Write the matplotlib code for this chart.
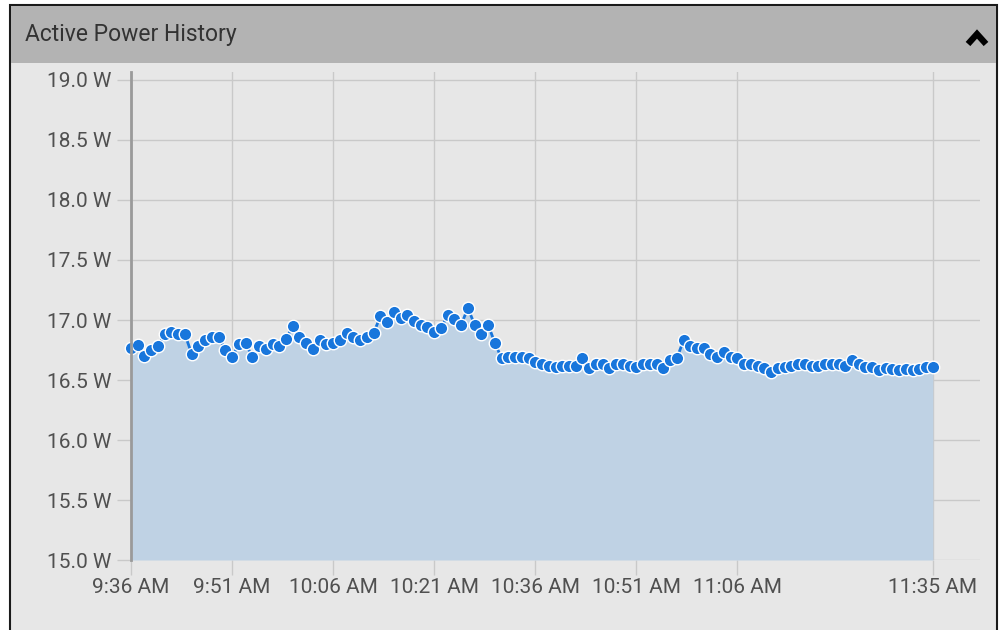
import numpy as np
import pandas as pd
import matplotlib
matplotlib.use("Agg")
import matplotlib.pyplot as plt
from matplotlib.patches import Rectangle
from matplotlib.lines import Line2D

# one reading per minute, 9:36 AM .. 11:35 AM
times = pd.date_range("2024-01-01 09:36", "2024-01-01 11:35", freq="1min")
power_w = [
    16.77, 16.79, 16.70, 16.75, 16.78, 16.88, 16.90, 16.88, 16.88, 16.72,
    16.78, 16.83, 16.86, 16.86, 16.75, 16.69, 16.80, 16.81, 16.69, 16.78,
    16.76, 16.80, 16.78, 16.84, 16.95, 16.86, 16.81, 16.76, 16.83, 16.80,
    16.81, 16.83, 16.89, 16.86, 16.83, 16.86, 16.89, 17.03, 16.98, 17.07,
    17.02, 17.04, 16.99, 16.96, 16.94, 16.90, 16.93, 17.04, 17.01, 16.96,
    17.10, 16.96, 16.88, 16.96, 16.81, 16.68, 16.69, 16.69, 16.69, 16.68,
    16.65, 16.63, 16.62, 16.61, 16.62, 16.62, 16.62, 16.68, 16.60, 16.63,
    16.63, 16.60, 16.63, 16.63, 16.62, 16.61, 16.63, 16.63, 16.63, 16.60,
    16.67, 16.68, 16.83, 16.78, 16.77, 16.77, 16.72, 16.69, 16.73, 16.69,
    16.68, 16.63, 16.63, 16.62, 16.60, 16.57, 16.60, 16.61, 16.62, 16.63,
    16.63, 16.62, 16.62, 16.63, 16.63, 16.63, 16.62, 16.67, 16.63, 16.61,
    16.61, 16.58, 16.60, 16.59, 16.58, 16.59, 16.58, 16.59, 16.61, 16.61,
]
tick_labels = ["9:36 AM", "9:51 AM", "10:06 AM", "10:21 AM", "10:36 AM",
               "10:51 AM", "11:06 AM", "11:35 AM"]
y_ticks = [15.0, 15.5, 16.0, 16.5, 17.0, 17.5, 18.0, 18.5, 19.0]

plt.rcParams["font.family"] = ["Roboto", "DejaVu Sans"]

W, H = 1005, 630
fig = plt.figure(figsize=(W / 100, H / 100), dpi=100)
fig.patch.set_facecolor("white")

def px(x0, y0, x1, y1):
    # pixel box (top-left origin) -> figure fraction rect
    return (x0 / W, 1 - y1 / H, (x1 - x0) / W, (y1 - y0) / H)

# panel body, header band and border (kept behind the axes)
l, b, w, h = px(10, 5, 997, 640)
fig.add_artist(Rectangle((l, b), w, h, transform=fig.transFigure,
                         facecolor="#e7e7e7", edgecolor="#1a1a1a", lw=1.5,
                         zorder=-2))
l, b, w, h = px(11, 6, 996, 63)
fig.add_artist(Rectangle((l, b), w, h, transform=fig.transFigure,
                         facecolor="#b3b3b3", edgecolor="none", zorder=-1))
fig.text(25 / W, 1 - 35 / H, "Active Power History", fontsize=16.5,
         color="#333333", va="center", ha="left")
# collapse chevron
fig.add_artist(Line2D([968 / W, 977 / W, 986 / W],
                      [1 - 44 / H, 1 - 34 / H, 1 - 44 / H],
                      transform=fig.transFigure, color="black", lw=4.5,
                      solid_joinstyle="miter", solid_capstyle="butt"))

minutes = (times - times[0]).total_seconds() / 60
tick_pos = [0, 15, 30, 45, 60, 75, 90, 119]

ax = fig.add_axes(px(131, 72, 980, 560))
ax.set_facecolor("#e7e7e7")
ax.fill_between(minutes, power_w, 15.0, color="#bfd2e4", lw=0, zorder=2)
ax.plot(minutes, power_w, color="#1876dc", lw=2, zorder=3,
        marker="o", markersize=9, markerfacecolor="#1876dc",
        markeredgecolor="white", markeredgewidth=1, clip_on=False)

ax.set_xlim(0, 126)
ax.set_ylim(15.0, 19.0 + 8 / 120)
ax.set_xticks(tick_pos)
ax.set_xticklabels(tick_labels)
ax.set_yticks(y_ticks)
ax.set_yticklabels([f"{v:.1f} W" for v in y_ticks])
ax.grid(True, color="#c9c9c9", lw=1, zorder=1)
ax.set_axisbelow(True)
ax.tick_params(axis="y", length=10, width=1, color="#c9c9c9", pad=4,
               labelsize=15, labelcolor="#505050")
ax.tick_params(axis="x", length=11, width=1, color="#c9c9c9", pad=2,
               labelsize=15, labelcolor="#505050")
for side in ["top", "right", "bottom"]:
    ax.spines[side].set_visible(False)
ax.spines["left"].set_color("#9a9a9a")
ax.spines["left"].set_linewidth(2)
ax.spines["left"].set_zorder(4)

fig.savefig("out.png", dpi=100)
